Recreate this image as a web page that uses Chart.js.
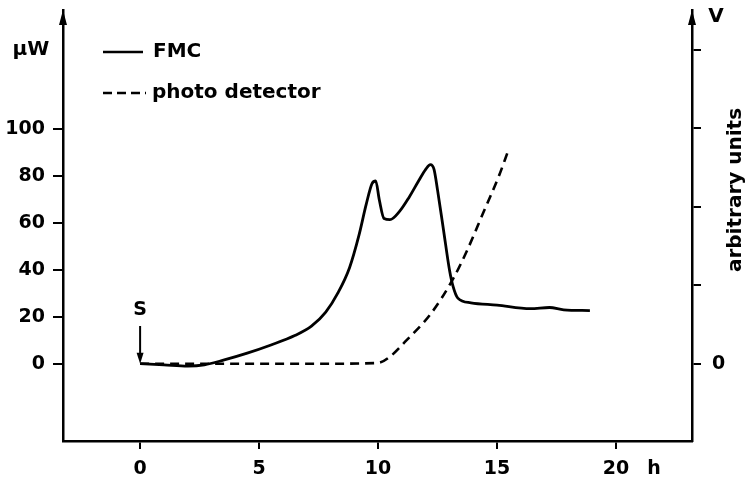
<!DOCTYPE html>
<html>
<head>
<meta charset="utf-8">
<script src="https://cdn.jsdelivr.net/npm/chart.js@4.4.1/dist/chart.umd.min.js"></script>
<style>
  html, body { margin: 0; padding: 0; background: #fff; }
  #wrap { width: 749px; height: 484px; }
</style>
</head>
<body>
<div id="wrap"><canvas id="myChart"></canvas></div>
<script>
// time (h) and FMC power (µW)
fmc_x = [0, 1, 2, 2.7, 3.5, 4.5, 5.5, 6.5, 7.2, 7.8, 8.3, 8.8, 9.2, 9.5, 9.75, 9.9, 10.05, 10.25, 10.5, 10.9, 11.3, 11.7, 12.0, 12.2, 12.35, 12.5, 12.75, 13.0, 13.15, 13.35, 13.9, 15, 16.4, 17.2, 17.8, 18.9];
fmc_y = [0, -0.5, -1, -0.5, 1.5, 4.5, 8, 12, 16, 22, 30, 41, 55, 68, 77, 78, 70, 62, 61.5, 65, 71, 78, 83, 85, 83, 74, 57, 40, 33, 28, 26, 25, 23.5, 24, 23, 22.7];

// time (h) and photo detector signal (V, arbitrary units)
pd_x = [0, 3, 6, 8, 10, 10.5, 11.2, 12.2, 13.15, 13.75, 14.4, 15.1, 15.45];
pd_y = [0, 0, 0, 0, 0.01, 0.09, 0.3, 0.63, 1.08, 1.45, 1.91, 2.41, 2.7];

// tick labels
x_ticks = [0, 5, 10, 15, 20];
left_ticks = [0, 20, 40, 60, 80, 100];
right_ticks = [0, 1, 2, 3, 4];

var family = "'DejaVu Sans', sans-serif";
var font = { family: family, size: 19, weight: 'bold' };
var textFont = 'bold 20px ' + family;

function points(xs, ys) {
  var out = [];
  for (var i = 0; i < xs.length; i++) {
    out.push({ x: xs[i], y: ys[i] });
  }
  return out;
}

function setTicks(list) {
  return function(scale) {
    scale.ticks = list.map(function(v) { return { value: v }; });
  };
}

// fixed axis sizes, no extra label padding
function fixSize(w, h) {
  return function(s) {
    if (w) s.width = w;
    if (h) s.height = h;
    s.paddingTop = 0;
    s.paddingBottom = 0;
    s.paddingLeft = 0;
    s.paddingRight = 0;
  };
}

// extra text, arrows and legend
var extras = {
  id: 'extras',
  afterDraw: function(chart) {
    var c = chart.ctx;
    var a = chart.chartArea;
    var xs = chart.scales.x;
    var yl = chart.scales.y;
    c.save();
    c.fillStyle = '#000';
    c.strokeStyle = '#000';

    // arrow heads on both vertical axes
    [a.left, a.right].forEach(function(px) {
      c.beginPath();
      c.moveTo(px, a.top);
      c.lineTo(px - 4, a.top + 15);
      c.lineTo(px + 4, a.top + 15);
      c.closePath();
      c.fill();
    });

    c.font = textFont;
    c.textBaseline = 'middle';
    c.textAlign = 'center';
    c.fillText('µW', 31, 50);
    c.fillText('V', 716, 17);
    c.font = 'bold 19px ' + family;
    c.fillText('h', 654, 469);

    // start marker
    var sx = xs.getPixelForValue(0);
    var sy = yl.getPixelForValue(0);
    c.fillText('S', sx, 310);
    c.lineWidth = 2;
    c.beginPath();
    c.moveTo(sx, 326);
    c.lineTo(sx, sy - 6);
    c.stroke();
    c.beginPath();
    c.moveTo(sx, sy);
    c.lineTo(sx - 3.5, sy - 11);
    c.lineTo(sx + 3.5, sy - 11);
    c.closePath();
    c.fill();

    // rotated right axis title
    c.font = textFont;
    c.save();
    c.translate(736, 190);
    c.rotate(-Math.PI / 2);
    c.fillText('arbitrary units', 0, 0);
    c.restore();

    // legend
    c.lineWidth = 2.6;
    c.beginPath();
    c.moveTo(103, 52);
    c.lineTo(143, 52);
    c.stroke();
    c.setLineDash([9, 5]);
    c.beginPath();
    c.moveTo(103, 93);
    c.lineTo(146, 93);
    c.stroke();
    c.setLineDash([]);
    c.textAlign = 'left';
    c.fillText('FMC', 153, 52);
    c.fillText('photo detector', 152, 93);
    c.restore();
  }
};

var axisGrid = { display: true, drawOnChartArea: false, drawTicks: true, color: '#000', lineWidth: 2 };

var ctx = document.getElementById('myChart').getContext('2d');
var myChart = new Chart(ctx, {
  type: 'line',
  data: {
    datasets: [
      {
        label: 'FMC',
        data: points(fmc_x, fmc_y),
        yAxisID: 'y',
        borderColor: '#000',
        borderWidth: 2.8,
        pointRadius: 0,
        fill: false,
        cubicInterpolationMode: 'monotone'
      },
      {
        label: 'photo detector',
        data: points(pd_x, pd_y),
        yAxisID: 'y2',
        borderColor: '#000',
        borderWidth: 2.6,
        borderDash: [9, 6],
        pointRadius: 0,
        fill: false,
        cubicInterpolationMode: 'monotone'
      }
    ]
  },
  options: {
    responsive: true,
    maintainAspectRatio: false,
    animation: false,
    layout: { padding: { top: 10, left: 0, right: 0, bottom: 0 } },
    plugins: { legend: { display: false }, tooltip: { enabled: false } },
    scales: {
      x: {
        type: 'linear',
        min: -3.24,
        max: 23.19,
        afterBuildTicks: setTicks(x_ticks),
        afterFit: fixSize(0, 43),
        grid: Object.assign({ tickLength: 8 }, axisGrid),
        border: { display: true, color: '#000', width: 2.5 },
        ticks: { color: '#000', font: font, padding: 9, maxRotation: 0 }
      },
      y: {
        type: 'linear',
        position: 'left',
        min: -33,
        max: 151,
        afterBuildTicks: setTicks(left_ticks),
        afterFit: fixSize(63, 0),
        grid: Object.assign({ tickLength: 10 }, axisGrid),
        border: { display: true, color: '#000', width: 2.5 },
        ticks: { color: '#000', font: font, padding: 8 }
      },
      y2: {
        type: 'linear',
        position: 'right',
        min: -0.985,
        max: 4.507,
        afterBuildTicks: setTicks(right_ticks),
        afterFit: fixSize(57, 0),
        grid: Object.assign({ tickLength: 9 }, axisGrid),
        border: { display: true, color: '#000', width: 2.5 },
        ticks: {
          color: '#000',
          font: font,
          padding: 11,
          callback: function(v) { return v === 0 ? '0' : ''; }
        }
      }
    }
  },
  plugins: [extras]
});
</script>
</body>
</html>
